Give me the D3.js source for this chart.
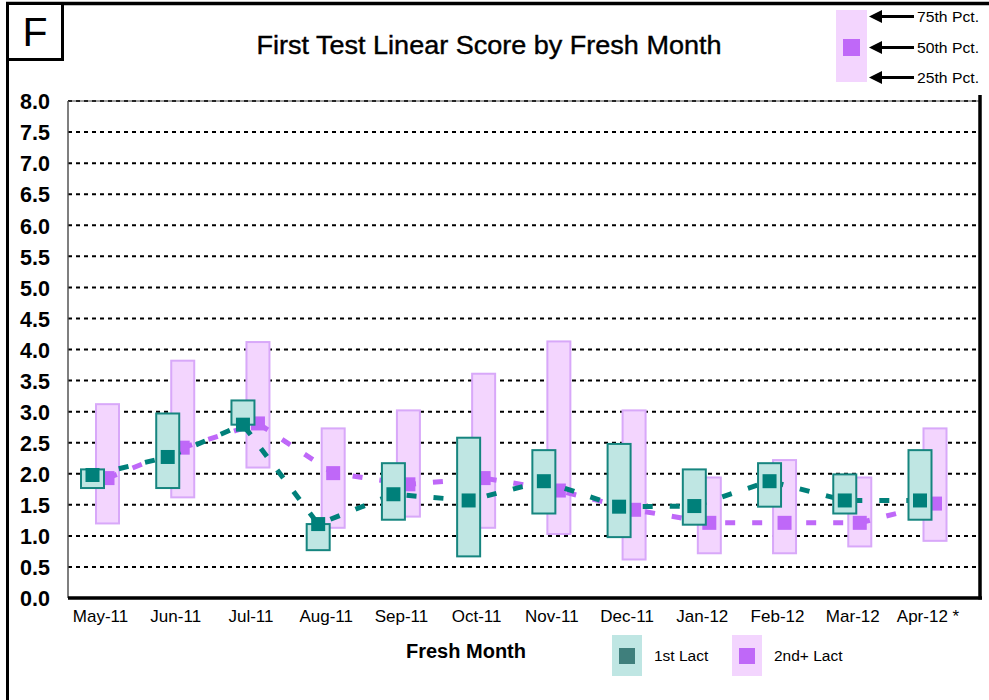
<!DOCTYPE html>
<html>
<head>
<meta charset="utf-8">
<script src="https://cdn.jsdelivr.net/npm/d3@7"></script>
<style>
  body { margin: 0; background: #fff; }
  svg { display: block; font-family: "Liberation Sans", Arial, sans-serif; }
</style>
</head>
<body>
<svg id="chart" width="989" height="700"></svg>
<script>
// months on the x axis (last one carries the footnote star)
const months = ["May-11", "Jun-11", "Jul-11", "Aug-11", "Sep-11", "Oct-11",
                "Nov-11", "Dec-11", "Jan-12", "Feb-12", "Mar-12", "Apr-12"];
const monthLabels = ["May-11", "Jun-11", "Jul-11", "Aug-11", "Sep-11", "Oct-11",
                     "Nov-11", "Dec-11", "Jan-12", "Feb-12", "Mar-12", "Apr-12 *"];

// 1st lactation percentiles
const first25 = [1.77, 1.77, 2.79, 0.77, 1.26, 0.67, 1.36, 0.98, 1.18, 1.47, 1.36, 1.26];
const first50 = [1.98, 2.27, 2.79, 1.19, 1.67, 1.57, 1.88, 1.47, 1.48, 1.88, 1.57, 1.57];
const first75 = [2.07, 2.97, 3.18, 1.19, 2.17, 2.58, 2.38, 2.48, 2.07, 2.17, 1.99, 2.38];

// 2nd+ lactation percentiles
const second25 = [1.20, 1.62, 2.10, 1.13, 1.31, 1.13, 1.03, 0.62, 0.72, 0.72, 0.83, 0.92];
const second50 = [1.93, 2.42, 2.81, 2.01, 1.83, 1.93, 1.73, 1.42, 1.21, 1.21, 1.21, 1.52];
const second75 = [3.12, 3.82, 4.12, 2.73, 3.02, 3.61, 4.13, 3.02, 1.94, 2.22, 1.94, 2.73];

const yTicks = d3.range(0, 8.01, 0.5);

const svg = d3.select("#chart");

const x = d3.scalePoint().domain(months).range([100, 927.5]);
const y = d3.scaleLinear().domain([0, 8]).range([598, 101]);

const plotLeft = 68, plotRight = 980;
const off = 7.5, boxW = 23, mk = 14;

const teal = { fill: "#bfe6e3", stroke: "#16857f", mark: "#00807a" };
const purple = { fill: "#f3d5fe", stroke: "#d8a8f9", mark: "#bf68f8" };

// outer frame
svg.append("line").attr("x1", 6).attr("x2", 989).attr("y1", 3.5).attr("y2", 3.5)
    .attr("stroke", "#000").attr("stroke-width", 3.5);
svg.append("line").attr("x1", 7.5).attr("x2", 7.5).attr("y1", 2).attr("y2", 700)
    .attr("stroke", "#000").attr("stroke-width", 3);

// panel letter
svg.append("rect").attr("x", 7.5).attr("y", 3.5).attr("width", 55).attr("height", 56)
    .attr("fill", "#fff").attr("stroke", "#000").attr("stroke-width", 3);
svg.append("text").attr("x", 35).attr("y", 46).attr("text-anchor", "middle")
    .attr("font-size", 41).text("F");

// title
svg.append("text").attr("x", 489).attr("y", 54).attr("text-anchor", "middle")
    .attr("font-size", 26.5).attr("stroke", "#000").attr("stroke-width", 0.4)
    .attr("textLength", 465).attr("lengthAdjust", "spacingAndGlyphs")
    .text("First Test Linear Score by Fresh Month");

// gridlines
svg.append("g")
    .selectAll("line")
    .data(yTicks.filter(d => d > 0))
    .join("line")
    .attr("x1", plotLeft).attr("x2", plotRight)
    .attr("y1", d => y(d)).attr("y2", d => y(d))
    .attr("stroke", "#000").attr("stroke-width", 2)
    .attr("stroke-dasharray", "4,4");
svg.append("line").attr("x1", plotLeft).attr("x2", plotRight)
    .attr("y1", y(8)).attr("y2", y(8)).attr("stroke", "#444").attr("stroke-width", 1);

// y axis labels
const yAxis = d3.axisLeft(y).tickValues(yTicks).tickSize(0).tickPadding(0)
    .tickFormat(d3.format(".1f"));
const yg = svg.append("g").attr("transform", "translate(50,0)").call(yAxis);
yg.select(".domain").remove();
yg.selectAll("text").attr("font-size", 21.5).attr("font-weight", "bold")
    .attr("font-family", "'Liberation Sans', Arial, sans-serif").attr("fill", "#000")
    .attr("dy", "0.36em");

// left axis line
svg.append("line").attr("x1", plotLeft).attr("x2", plotLeft)
    .attr("y1", y(8)).attr("y2", y(0)).attr("stroke", "#555").attr("stroke-width", 1.5);

// series lines (behind the boxes)
const line1 = d3.line().x((d, i) => x(months[i]) - off).y(d => y(d));
const line2 = d3.line().x((d, i) => x(months[i]) + off).y(d => y(d));

// 2nd+ lact boxes
svg.append("g").selectAll("rect")
    .data(months)
    .join("rect")
    .attr("x", (m, i) => x(m) + off - boxW / 2)
    .attr("y", (m, i) => y(second75[i]))
    .attr("width", boxW)
    .attr("height", (m, i) => y(second25[i]) - y(second75[i]))
    .attr("fill", purple.fill).attr("stroke", purple.stroke).attr("stroke-width", 2);

svg.append("path").datum(second50).attr("d", line2)
    .attr("fill", "none").attr("stroke", purple.mark).attr("stroke-width", 5)
    .attr("stroke-dasharray", "10,17");

svg.append("g").selectAll("rect")
    .data(months)
    .join("rect")
    .attr("x", m => x(m) + off - mk / 2)
    .attr("y", (m, i) => y(second50[i]) - mk / 2)
    .attr("width", mk).attr("height", mk)
    .attr("fill", purple.mark);

svg.append("path").datum(first50).attr("d", line1)
    .attr("fill", "none").attr("stroke", teal.mark).attr("stroke-width", 5)
    .attr("stroke-dasharray", "10,17");

// 1st lact boxes
svg.append("g").selectAll("rect")
    .data(months)
    .join("rect")
    .attr("x", m => x(m) - off - boxW / 2)
    .attr("y", (m, i) => y(first75[i]))
    .attr("width", boxW)
    .attr("height", (m, i) => y(first25[i]) - y(first75[i]))
    .attr("fill", teal.fill).attr("stroke", teal.stroke).attr("stroke-width", 2);

svg.append("g").selectAll("rect")
    .data(months)
    .join("rect")
    .attr("x", m => x(m) - off - mk / 2)
    .attr("y", (m, i) => y(first50[i]) - mk / 2)
    .attr("width", mk).attr("height", mk)
    .attr("fill", teal.mark);

// bottom and right borders of the plot
svg.append("line").attr("x1", plotLeft).attr("x2", plotRight + 2)
    .attr("y1", y(0)).attr("y2", y(0)).attr("stroke", "#000").attr("stroke-width", 3.5);
svg.append("line").attr("x1", plotRight).attr("x2", plotRight)
    .attr("y1", y(8) - 6).attr("y2", y(0) + 1.5).attr("stroke", "#000").attr("stroke-width", 3.5);

// x axis labels
const xAxis = d3.axisBottom(x).tickSize(0).tickPadding(0)
    .tickFormat((d, i) => monthLabels[i]);
const xg = svg.append("g").attr("transform", "translate(0,610)").call(xAxis);
xg.select(".domain").remove();
xg.selectAll("text").attr("font-size", 17).attr("fill", "#000")
    .attr("font-family", "'Liberation Sans', Arial, sans-serif").attr("dy", "0.71em");

svg.append("text").attr("x", 466).attr("y", 658).attr("text-anchor", "middle")
    .attr("font-size", 20).attr("font-weight", "bold").text("Fresh Month");

// bottom legend
const legend = [
  { label: "1st Lact", c: teal, x: 612 },
  { label: "2nd+ Lact", c: purple, x: 732 }
];
const lg = svg.append("g").selectAll("g").data(legend).join("g")
    .attr("transform", d => `translate(${d.x},635)`);
lg.append("rect").attr("width", 30).attr("height", 41).attr("fill", d => d.c.fill);
lg.append("rect").attr("x", 7).attr("y", 13).attr("width", 16).attr("height", 16)
    .attr("fill", d => d.label === "1st Lact" ? "#3f7f7c" : d.c.mark);
lg.append("text").attr("x", 42).attr("y", 26).attr("font-size", 15.5).text(d => d.label);

// percentile key (top right)
svg.append("rect").attr("x", 836).attr("y", 10).attr("width", 31).attr("height", 72)
    .attr("fill", purple.fill);
svg.append("rect").attr("x", 843).attr("y", 39).attr("width", 17).attr("height", 17)
    .attr("fill", purple.mark);

const keyRows = [
  { label: "75th Pct.", y: 16.5 },
  { label: "50th Pct.", y: 47.5 },
  { label: "25th Pct.", y: 77.5 }
];
const kg = svg.append("g").selectAll("g").data(keyRows).join("g")
    .attr("transform", d => `translate(0,${d.y})`);
kg.append("line").attr("x1", 878).attr("x2", 914).attr("y1", 0).attr("y2", 0)
    .attr("stroke", "#000").attr("stroke-width", 3);
kg.append("path").attr("d", "M869,0L882,-6.5L882,6.5Z").attr("fill", "#000");
kg.append("text").attr("x", 917).attr("y", 5.5).attr("font-size", 14.5)
    .attr("textLength", 62).attr("lengthAdjust", "spacingAndGlyphs").text(d => d.label);
</script>
</body>
</html>
